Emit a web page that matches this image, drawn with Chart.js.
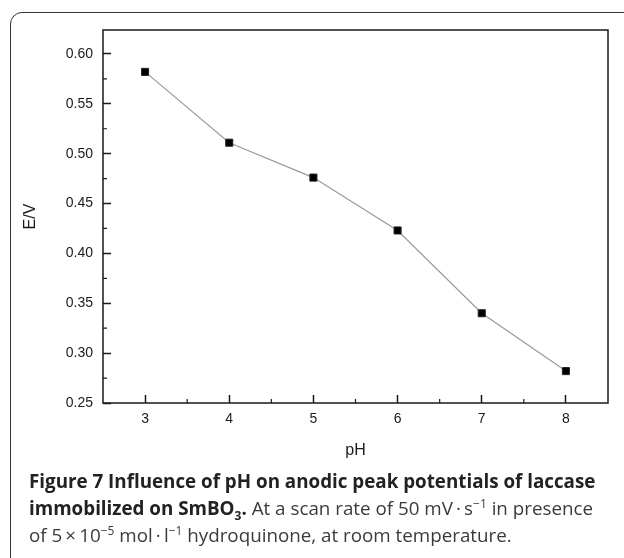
<!DOCTYPE html>
<html>
<head>
<meta charset="utf-8">
<script src="https://cdn.jsdelivr.net/npm/chart.js@4.4.0/dist/chart.umd.min.js"></script>
<style>
  html, body { margin: 0; padding: 0; background: #fff; overflow: hidden; width: 624px; height: 558px; }
  #frame {
    position: absolute; left: 10px; top: 12px; width: 700px; height: 600px;
    border: 1.5px solid #333; border-radius: 12px; box-sizing: border-box;
  }
  #chart { position: absolute; left: 0; top: 0; }
  .cap {
    position: absolute; left: 29px; white-space: nowrap;
    font-family: "Open Sans", sans-serif; font-size: 18.8px; line-height: 27px; color: #3a3a3a;
  }
  .cap b { font-weight: 700; color: #222; }
  .cap sup, .cap sub { font-size: 12px; line-height: 0; }
</style>
</head>
<body>
<div id="frame"></div>
<canvas id="chart" width="624" height="480"></canvas>
<div class="cap" id="l1" style="top:468px"><b>Figure 7 Influence of pH on anodic peak potentials of laccase</b></div>
<div class="cap" id="l2" style="top:495px"><b>immobilized on SmBO<sub>3</sub>.</b> At a scan rate of 50 mV&thinsp;·&thinsp;s<sup>−1</sup> in presence</div>
<div class="cap" id="l3" style="top:522px">of 5&thinsp;×&thinsp;10<sup>−5</sup> mol&thinsp;·&thinsp;l<sup>−1</sup> hydroquinone, at room temperature.</div>
<script>
// Data
const phValues = [3, 4, 5, 6, 7, 8];
const peakPotential = [0.582, 0.511, 0.476, 0.423, 0.340, 0.282];

// Axis ticks
const xTickValues = [3, 4, 5, 6, 7, 8];
const yTickValues = [0.25, 0.30, 0.35, 0.40, 0.45, 0.50, 0.55, 0.60];

const axisColor = '#1a1a1a';

// frame around plot area + minor ticks
const framePlugin = {
  id: 'framePlugin',
  afterDraw(chart) {
    const ctx = chart.ctx;
    const a = chart.chartArea;
    const xs = chart.scales.x, ys = chart.scales.y;
    ctx.save();
    ctx.strokeStyle = axisColor;
    ctx.lineWidth = 1.5;
    ctx.strokeRect(a.left, a.top, a.right - a.left, a.bottom - a.top);

    // minor ticks halfway between majors
    ctx.lineWidth = 1.2;
    ctx.beginPath();
    for (let i = 0; i < xTickValues.length - 1; i++) {
      const px = xs.getPixelForValue((xTickValues[i] + xTickValues[i + 1]) / 2);
      ctx.moveTo(px, a.bottom);
      ctx.lineTo(px, a.bottom - 4);
    }
    for (let i = 0; i < yTickValues.length - 1; i++) {
      const py = ys.getPixelForValue((yTickValues[i] + yTickValues[i + 1]) / 2);
      ctx.moveTo(a.left, py);
      ctx.lineTo(a.left + 4, py);
    }
    ctx.stroke();
    ctx.restore();
  }
};

const tickFont = { family: '"Liberation Sans", Arial, sans-serif', size: 14 };
const titleFont = { family: '"Liberation Sans", Arial, sans-serif', size: 16 };

new Chart(document.getElementById('chart').getContext('2d'), {
  type: 'line',
  data: {
    datasets: [{
      data: phValues.map((x, i) => ({ x: x, y: peakPotential[i] })),
      borderColor: '#9a9a9a',
      borderWidth: 1.2,
      pointStyle: 'rect',
      pointRadius: 5,
      pointBackgroundColor: '#000',
      pointBorderColor: '#222',
      pointBorderWidth: 1,
      tension: 0
    }]
  },
  options: {
    responsive: false,
    animation: false,
    layout: { padding: { left: 0, top: 30, right: 16, bottom: 0 } },
    plugins: { legend: { display: false }, tooltip: { enabled: false } },
    scales: {
      x: {
        type: 'linear',
        min: 2.5,
        max: 8.5,
        afterBuildTicks: s => { s.ticks = xTickValues.map(v => ({ value: v })); },
        afterFit: s => { s.height = 77; },
        border: { display: false },
        grid: { drawOnChartArea: false, tickLength: -8, tickColor: axisColor, tickWidth: 1.5 },
        ticks: { color: axisColor, font: tickFont, padding: 16, maxRotation: 0, callback: v => String(v) },
        title: { display: true, text: 'pH', color: axisColor, font: titleFont, padding: { top: 0, bottom: 20 } }
      },
      y: {
        type: 'linear',
        min: 0.25,
        max: 0.624,
        afterBuildTicks: s => { s.ticks = yTickValues.map(v => ({ value: v })); },
        afterFit: s => { s.width = 103; },
        border: { display: false },
        grid: { drawOnChartArea: false, tickLength: -8, tickColor: axisColor, tickWidth: 1.5 },
        ticks: { color: axisColor, font: tickFont, padding: 18, callback: v => v.toFixed(2) },
        title: { display: true, text: 'E/V', color: axisColor, font: titleFont, padding: { top: 21, bottom: 0 } }
      }
    }
  },
  plugins: [framePlugin]
});
</script>
</body>
</html>
